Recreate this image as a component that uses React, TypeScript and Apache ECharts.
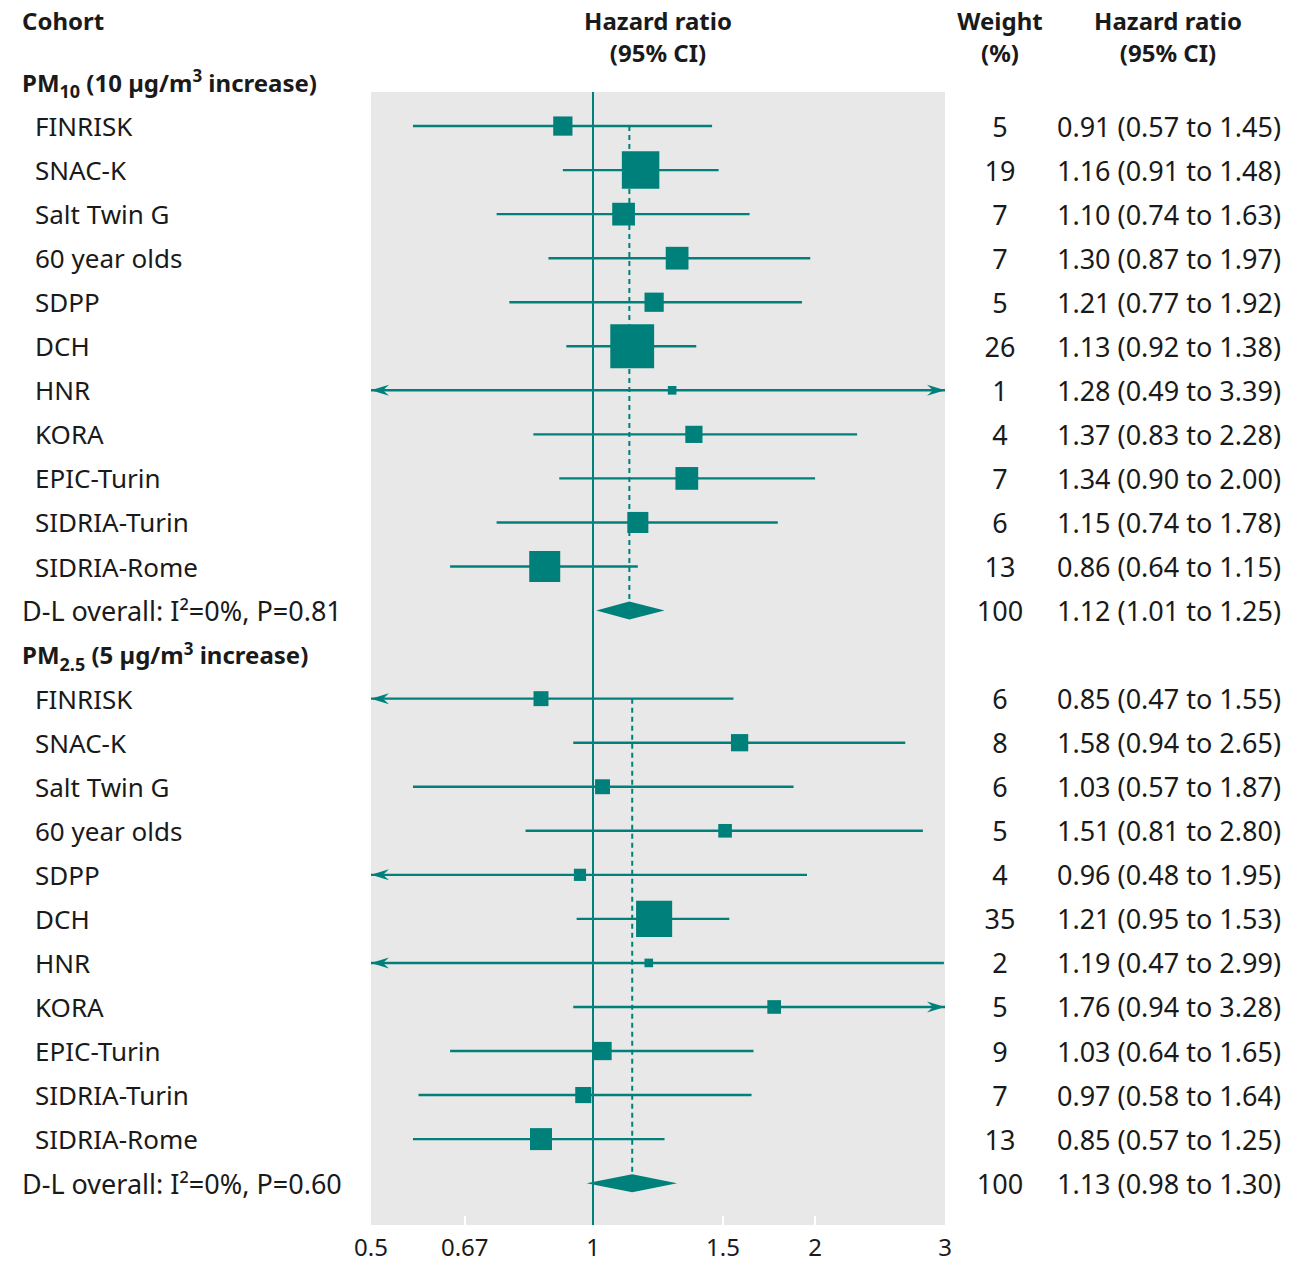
import React, { useEffect, useRef } from 'react';
import * as echarts from 'echarts';

// ---------- data ----------
const cohorts = ['FINRISK', 'SNAC-K', 'Salt Twin G', '60 year olds', 'SDPP', 'DCH', 'HNR', 'KORA', 'EPIC-Turin', 'SIDRIA-Turin', 'SIDRIA-Rome'];

const pm10HR = [0.91, 1.16, 1.10, 1.30, 1.21, 1.13, 1.28, 1.37, 1.34, 1.15, 0.86];
const pm10Lo = [0.57, 0.91, 0.74, 0.87, 0.77, 0.92, 0.49, 0.83, 0.90, 0.74, 0.64];
const pm10Hi = [1.45, 1.48, 1.63, 1.97, 1.92, 1.38, 3.39, 2.28, 2.00, 1.78, 1.15];
const pm10W = [5, 19, 7, 7, 5, 26, 1, 4, 7, 6, 13];
const pm10Overall = [1.12, 1.01, 1.25];
const pm10OverallWeight = 100;
const pm10Stats = { i2: '0%', p: '0.81' };

const pm25HR = [0.85, 1.58, 1.03, 1.51, 0.96, 1.21, 1.19, 1.76, 1.03, 0.97, 0.85];
const pm25Lo = [0.47, 0.94, 0.57, 0.81, 0.48, 0.95, 0.47, 0.94, 0.64, 0.58, 0.57];
const pm25Hi = [1.55, 2.65, 1.87, 2.80, 1.95, 1.53, 2.99, 3.28, 1.65, 1.64, 1.25];
const pm25W = [6, 8, 6, 5, 4, 35, 2, 5, 9, 7, 13];
const pm25Overall = [1.13, 0.98, 1.30];
const pm25OverallWeight = 100;
const pm25Stats = { i2: '0%', p: '0.60' };

const tickValues = [0.5, 0.67, 1, 1.5, 2, 3];
const innerTickValues = [0.67, 1.5, 2];
const X_MIN = 0.5;
const X_MAX = 3;

// ---------- styles ----------
const TEAL = '#00807a';
const GRAY = '#e8e8e8';
const INK = '#1a1a1a';
const FONT = '"Noto Sans", "DejaVu Sans", sans-serif';
const FS = 26;
const FS_NUM = 27;

const groups = [
  {
    head: '{b|PM}{bsub|10}{b| (10 µg/m}{bsup|3}{b| increase)}',
    hr: pm10HR, lo: pm10Lo, hi: pm10Hi, w: pm10W, overall: pm10Overall, ow: pm10OverallWeight, stats: pm10Stats, scale: 8.6,
  },
  {
    head: '{b|PM}{bsub|2.5}{b| (5 µg/m}{bsup|3}{b| increase)}',
    hr: pm25HR, lo: pm25Lo, hi: pm25Hi, w: pm25W, overall: pm25Overall, ow: pm25OverallWeight, stats: pm25Stats, scale: 6.1,
  },
];

const f2 = (v: number) => v.toFixed(2);

type TextRow = { row: number; kind: string; label: string; weight: string; ci: string };
const textRows: TextRow[] = [];
const studyData: number[][] = [];
const overallData: number[][] = [];
const dashData: number[][] = [];

let r = 0;
groups.forEach((g) => {
  textRows.push({ row: r, kind: 'header', label: g.head, weight: '', ci: '' });
  r++;
  const first = r;
  cohorts.forEach((c, i) => {
    textRows.push({
      row: r, kind: 'cohort', label: c, weight: String(g.w[i]),
      ci: `${f2(g.hr[i])} (${f2(g.lo[i])} to ${f2(g.hi[i])})`,
    });
    studyData.push([g.hr[i], r, g.lo[i], g.hi[i], g.w[i], g.scale]);
    r++;
  });
  textRows.push({
    row: r, kind: 'overall',
    label: `D-L overall: I\u00B2=${g.stats.i2}, P=${g.stats.p}`,
    weight: String(g.ow),
    ci: `${f2(g.overall[0])} (${f2(g.overall[1])} to ${f2(g.overall[2])})`,
  });
  overallData.push([g.overall[0], r, g.overall[1], g.overall[2]]);
  dashData.push([g.overall[0], first, r]);
  r++;
});

const ROW_MIN = 0.227;
const ROW_MAX = 25.95;

function arrowHead(tipX: number, y: number, dir: number) {
  const len = 18;
  const half = 5.5;
  const notch = 12;
  return {
    type: 'polygon',
    shape: {
      points: [
        [tipX, y],
        [tipX - dir * len, y - half],
        [tipX - dir * notch, y],
        [tipX - dir * len, y + half],
      ],
    },
    style: { fill: TEAL },
  };
}

export default function App() {
  const ref = useRef<HTMLDivElement>(null);
  useEffect(() => {
    if (!ref.current) return;
    const chart = echarts.init(ref.current, null, { renderer: 'svg' });

    const richBase = {
      b: { fontSize: 24, fontWeight: 'bold', fontFamily: FONT, fill: INK, color: INK, lineHeight: 30 },
      bsub: { fontSize: 18, fontWeight: 'bold', fontFamily: FONT, fill: INK, color: INK, height: 12, lineHeight: 12, verticalAlign: 'bottom' },
      bsup: { fontSize: 17, fontWeight: 'bold', fontFamily: FONT, fill: INK, color: INK, lineHeight: 14, verticalAlign: 'top' },
    };

    const headerText = (text: string, x: number, y: number, align: string) => ({
      type: 'text',
      x, y,
      style: { text, fontSize: 24, fontWeight: 'bold', fontFamily: FONT, fill: INK, align, verticalAlign: 'middle' },
    });

    const option: any = {
      animation: false,
      grid: {
        left: 371, right: 1302 - 945, top: 92, height: 1133,
        show: true, backgroundColor: GRAY, borderWidth: 0,
      },
      xAxis: {
        type: 'log', logBase: 10, min: X_MIN, max: X_MAX,
        axisLine: { show: false },
        splitLine: { show: false },
        axisTick: { show: true, inside: true, length: 9, lineStyle: { color: '#ffffff', width: 2 }, customValues: innerTickValues },
        axisLabel: {
          customValues: tickValues, fontSize: 24, fontFamily: FONT, color: INK, margin: 9,
          formatter: (v: number) => String(+(+v).toFixed(2)),
        },
      },
      yAxis: { type: 'value', inverse: true, min: ROW_MIN, max: ROW_MAX, show: false },
      graphic: [
        headerText('Cohort', 22, 20, 'left'),
        headerText('Hazard ratio', 658, 20, 'center'),
        headerText('(95% CI)', 658, 52, 'center'),
        headerText('Weight', 1000, 20, 'center'),
        headerText('(%)', 1000, 52, 'center'),
        headerText('Hazard ratio', 1168, 20, 'center'),
        headerText('(95% CI)', 1168, 52, 'center'),
      ],
      series: [
        {
          type: 'custom', name: 'ref', data: [[1, ROW_MIN]], encode: { x: 0, y: 1 },
          renderItem: () => ({ type: 'group', children: [] }),
          markLine: {
            silent: true, symbol: 'none', label: { show: false },
            lineStyle: { color: TEAL, width: 2, type: 'solid' },
            data: [{ xAxis: 1 }],
          },
        },
        {
          type: 'custom', name: 'pooled', data: dashData, encode: { x: 0, y: [1, 2] },
          renderItem: (params: any, api: any) => {
            const est = api.value(0);
            const p1 = api.coord([est, api.value(1)]);
            const p2 = api.coord([est, api.value(2)]);
            return {
              type: 'line',
              shape: { x1: p1[0], y1: p1[1], x2: p2[0], y2: p2[1] - 9 },
              style: { stroke: TEAL, lineWidth: 2, lineDash: [5, 4] },
            };
          },
        },
        {
          type: 'custom', name: 'studies', data: studyData, encode: { x: [0, 2, 3], y: 1 },
          renderItem: (params: any, api: any) => {
            const est = api.value(0), row = api.value(1), lo = api.value(2), hi = api.value(3);
            const w = api.value(4), k = api.value(5);
            const y = api.coord([est, row])[1];
            const xe = api.coord([est, row])[0];
            const xl = api.coord([Math.max(lo, X_MIN), row])[0];
            const xh = api.coord([Math.min(hi, X_MAX), row])[0];
            const s = k * Math.sqrt(w);
            const children: any[] = [
              { type: 'line', shape: { x1: xl, y1: y, x2: xh, y2: y }, style: { stroke: TEAL, lineWidth: 2.4 } },
              { type: 'rect', shape: { x: xe - s / 2, y: y - s / 2, width: s, height: s }, style: { fill: TEAL } },
            ];
            if (lo < X_MIN) children.push(arrowHead(xl, y, -1));
            if (hi > X_MAX) children.push(arrowHead(xh, y, 1));
            return { type: 'group', children };
          },
        },
        {
          type: 'custom', name: 'overall', data: overallData, encode: { x: [0, 2, 3], y: 1 },
          renderItem: (params: any, api: any) => {
            const est = api.value(0), row = api.value(1), lo = api.value(2), hi = api.value(3);
            const c = api.coord([est, row]);
            const xl = api.coord([lo, row])[0];
            const xh = api.coord([hi, row])[0];
            const h = 9;
            return {
              type: 'polygon',
              shape: { points: [[xl, c[1]], [c[0], c[1] - h], [xh, c[1]], [c[0], c[1] + h]] },
              style: { fill: TEAL },
            };
          },
        },
        {
          type: 'custom', name: 'texts', clip: false,
          data: textRows.map((t) => [1, t.row]), encode: { x: 0, y: 1 },
          renderItem: (params: any, api: any) => {
            const t = textRows[params.dataIndex];
            const y = api.coord([1, t.row])[1];
            const children: any[] = [];
            if (t.kind === 'header') {
              children.push({
                type: 'text', x: 22, y,
                style: { text: t.label, rich: richBase, align: 'left', verticalAlign: 'middle', fontFamily: FONT, fontSize: 24, fontWeight: 'bold', fill: INK },
              });
            } else if (t.kind === 'overall') {
              children.push({
                type: 'text', x: 22, y,
                style: { text: t.label, align: 'left', verticalAlign: 'middle', fontFamily: FONT, fontSize: 27, fill: INK },
              });
            } else {
              children.push({
                type: 'text', x: 35, y,
                style: { text: t.label, align: 'left', verticalAlign: 'middle', fontFamily: FONT, fontSize: FS, fill: INK },
              });
            }
            if (t.weight) {
              children.push({
                type: 'text', x: 1000, y,
                style: { text: t.weight, align: 'center', verticalAlign: 'middle', fontFamily: FONT, fontSize: FS_NUM, fill: INK },
              });
            }
            if (t.ci) {
              children.push({
                type: 'text', x: 1281, y,
                style: { text: t.ci, align: 'right', verticalAlign: 'middle', fontFamily: FONT, fontSize: FS_NUM, fill: INK },
              });
            }
            return { type: 'group', children };
          },
        },
      ],
    };
    chart.setOption(option);
    return () => chart.dispose();
  }, []);

  return (
    <div
      ref={ref}
      style={{ position: 'fixed', left: 0, top: 0, width: 1302, height: 1269, background: '#ffffff' }}
    />
  );
}
